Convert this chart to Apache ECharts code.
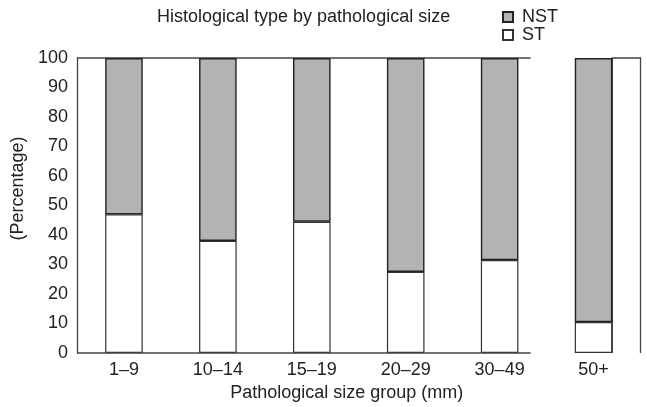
<!DOCTYPE html>
<html>
<head>
<meta charset="utf-8">
<script src="https://cdn.jsdelivr.net/npm/echarts@6/dist/echarts.min.js"></script>
<style>html,body{margin:0;padding:0;background:#fff}#c{width:647px;height:407px}</style>
</head>
<body>
<div id="c"></div>
<script>
var categories = ['1\u20139', '10\u201314', '15\u201319', '20\u201329', '30\u201349', '50+'];
var stValues = [47, 38, 44.5, 27.5, 31.5, 10.5];
var nstValues = [53, 62, 55.5, 72.5, 68.5, 89.5];
var extraValues = [null, null, null, null, null, 100];
var yTicks = [0, 10, 20, 30, 40, 50, 60, 70, 80, 90, 100];

var FONT = '"Liberation Sans", Arial, sans-serif';
var LINE = '#444';
var chart = echarts.init(document.getElementById('c'), null, {renderer: 'canvas'});

var option = {
  animation: false,
  backgroundColor: '#fff',
  title: {
    text: 'Histological type by pathological size',
    left: 157, top: 8, padding: 0,
    textStyle: {fontFamily: FONT, fontSize: 18, fontWeight: 'normal', color: '#222'}
  },
  legend: {
    data: ['NST', 'ST'],
    orient: 'vertical',
    left: 502, top: 8, padding: 0,
    itemWidth: 10, itemHeight: 10, itemGap: 0,
    icon: 'rect',
    textStyle: {fontFamily: FONT, fontSize: 18, color: '#222', padding: [0, 0, 0, 4]}
  },
  grid: {left: 77, top: 58, right: 6.5, bottom: 53, containLabel: false},
  xAxis: {
    type: 'category',
    data: categories,
    axisLine: {show: false},
    axisTick: {show: false},
    axisLabel: {fontFamily: FONT, fontSize: 18, color: '#222', margin: 8},
    name: 'Pathological size group (mm)',
    nameLocation: 'middle',
    nameGap: 31,
    nameTextStyle: {fontFamily: FONT, fontSize: 18, color: '#222', padding: [0, 24, 0, 0]}
  },
  yAxis: {
    type: 'value',
    min: 0, max: 100, interval: 10,
    axisLine: {show: true, lineStyle: {color: LINE, width: 1.3}},
    axisTick: {show: false},
    splitLine: {show: false},
    axisLabel: {fontFamily: FONT, fontSize: 18, color: '#222', margin: 9,
      formatter: function (v) { return yTicks.indexOf(v) >= 0 ? String(v) : ''; }},
    name: '(Percentage)',
    nameLocation: 'middle',
    nameGap: 41,
    nameTextStyle: {fontFamily: FONT, fontSize: 18, color: '#222', padding: [0, 0, 0, 34]}
  },
  series: [
    {
      name: 'ST', type: 'bar', stack: 'all', data: stValues, barWidth: '40%',
      itemStyle: {color: '#ffffff', borderColor: '#333', borderWidth: 1.2}
    },
    {
      name: 'NST', type: 'bar', stack: 'all', data: nstValues, barWidth: '40%',
      itemStyle: {color: '#b3b3b3', borderColor: '#222', borderWidth: 1.4}
    },
    {
      name: 'extra', type: 'custom', data: extraValues.map(function (v, i) { return v == null ? null : [i, v]; }).filter(Boolean),
      silent: true,
      renderItem: function (params, api) {
        var top = api.coord([api.value(0), api.value(1)]);
        var base = api.coord([api.value(0), 0]);
        var band = api.size([1, 0])[0];
        var l = top[0] + band * 0.2, r = top[0] + band * 0.5;
        return {
          type: 'polyline',
          shape: {points: [[l, base[1]], [l, top[1]], [r, top[1]], [r, base[1]]]},
          style: {stroke: LINE, lineWidth: 1.3, fill: null}
        };
      }
    }
  ]
};
chart.setOption(option);

// frame lines (top and bottom) ending partway into the 30-49 band
var x0 = chart.convertToPixel({xAxisIndex: 0}, categories[0]);
var x1 = chart.convertToPixel({xAxisIndex: 0}, categories[1]);
var band = x1 - x0;
var xEnd = chart.convertToPixel({xAxisIndex: 0}, categories[4]) + band * 0.33;
var xStart = x0 - band / 2;
var yTop = chart.convertToPixel({yAxisIndex: 0}, 100);
var yBot = chart.convertToPixel({yAxisIndex: 0}, 0);
chart.setOption({
  graphic: [
    {type: 'line', shape: {x1: xStart, y1: yTop, x2: xEnd, y2: yTop}, style: {stroke: LINE, lineWidth: 1.3}, z: 1},
    {type: 'line', shape: {x1: xStart, y1: yBot, x2: xEnd, y2: yBot}, style: {stroke: LINE, lineWidth: 1.3}, z: 10}
  ]
});
</script>
</body>
</html>
